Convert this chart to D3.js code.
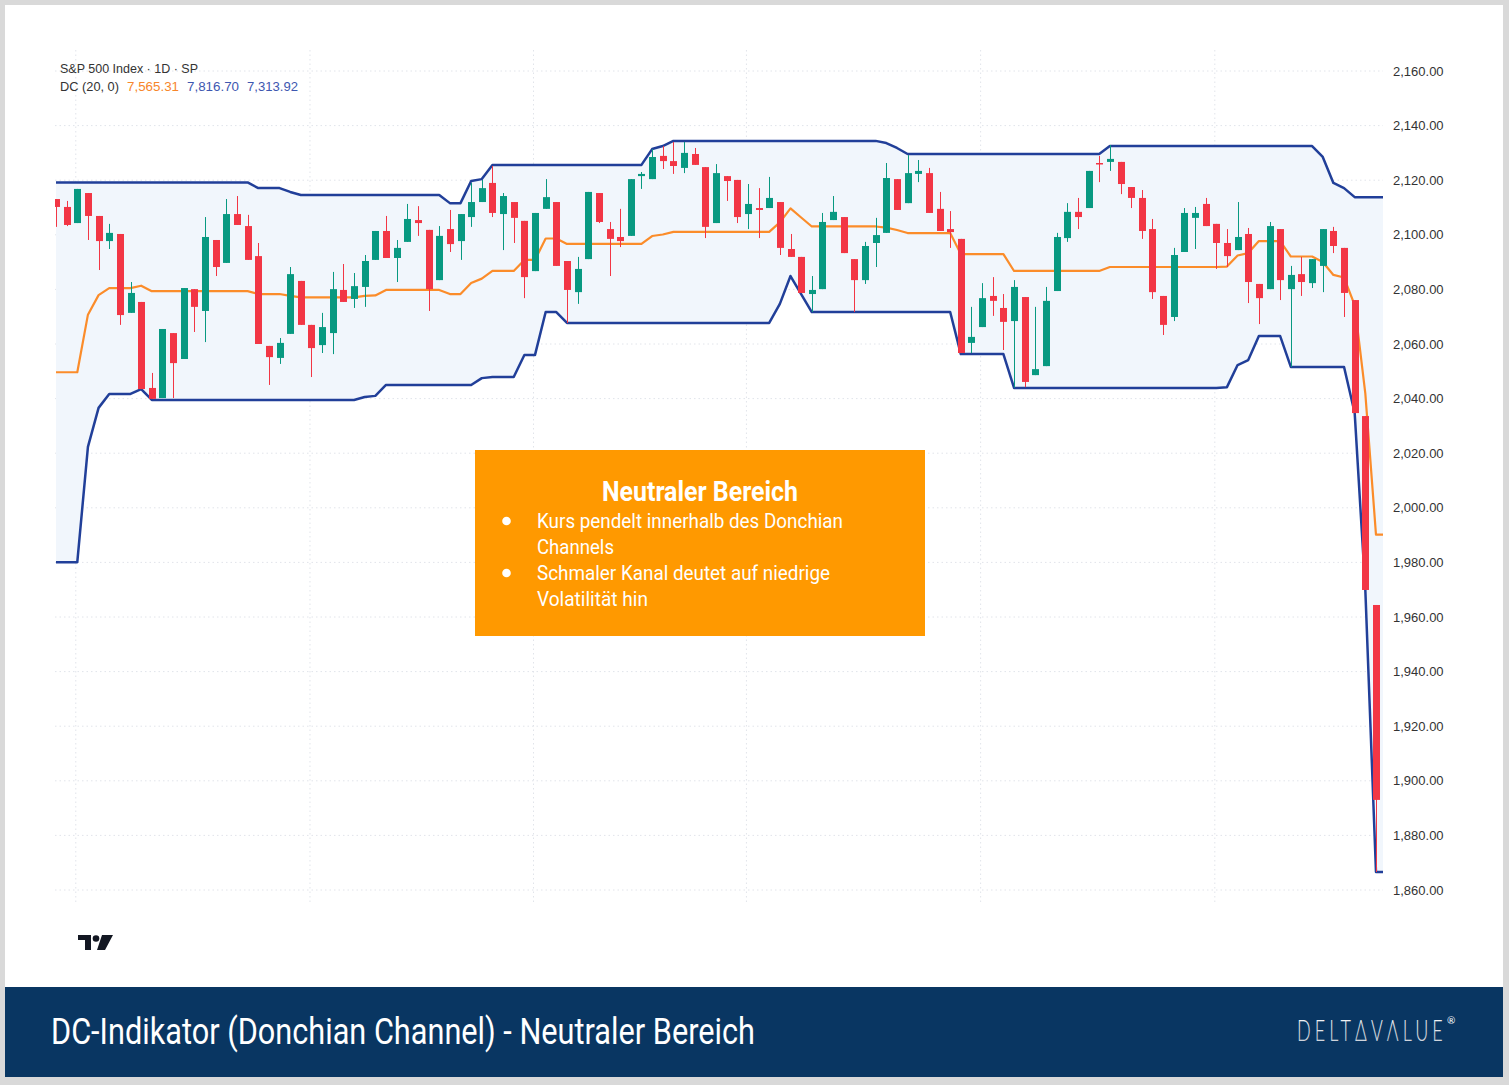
<!DOCTYPE html>
<html><head><meta charset="utf-8">
<script src="https://cdn.jsdelivr.net/npm/d3@7"></script>
<style>html,body{margin:0;padding:0;background:#d9d9d9;}svg{display:block;}</style>
</head><body>
<script>
// ---- data (S&P 500 daily candles) ----
const opens = [2113.1,2110.2,2104.3,2115.3,2106.9,2097.7,2100.3,2071.4,2075.4,2043.9,
2040.2,2064.0,2054.5,2080.1,2072.1,2098.1,2089.7,2107.6,2103.2,2092.2,
2059.3,2054.9,2063.7,2083.1,2067.0,2059.6,2064.0,2079.8,2076.5,2080.9,
2090.8,2101.4,2091.5,2097.4,2105.4,2101.8,2083.4,2102.1,2097.7,2106.5,
2112.0,2119.0,2107.6,2112.0,2105.1,2086.7,2109.5,2112.0,2090.4,2079.0,
2091.1,2115.3,2102.1,2099.2,2099.6,2121.5,2120.4,2128.9,2127.0,2124.5,
2129.6,2124.8,2104.3,2121.5,2120.1,2107.6,2109.8,2109.8,2112.0,2094.8,
2091.9,2078.3,2080.1,2105.4,2106.5,2091.1,2083.4,2097.0,2100.7,2120.4,
2111.6,2122.3,2122.6,2109.5,2102.1,2098.5,2060.4,2066.2,2077.6,2073.2,
2068.4,2077.2,2048.6,2051.9,2079.4,2098.8,2108.4,2109.8,2126.3,2126.7,
2126.7,2117.5,2113.5,2102.1,2077.6,2069.9,2093.7,2106.2,2111.3,2104.0,
2097.0,2094.4,2100.3,2082.0,2080.1,2102.1,2080.1,2085.6,2082.3,2088.6,
2101.4,2095.2,2076.1,2033.6,1964.4,1897.4];
const highs = [2113.1,2112.4,2116.8,2115.3,2106.9,2104.0,2100.3,2082.7,2075.4,2049.4,
2065.5,2064.0,2080.5,2080.1,2106.5,2098.1,2113.1,2114.2,2107.3,2097.0,
2059.3,2062.2,2088.2,2083.1,2067.0,2071.4,2086.4,2089.3,2086.0,2092.6,
2101.4,2106.9,2098.1,2111.3,2110.5,2101.8,2103.2,2109.1,2107.6,2119.0,
2120.1,2125.2,2115.3,2112.0,2105.1,2108.0,2120.4,2112.0,2090.4,2091.9,
2115.7,2115.3,2104.7,2109.5,2120.4,2123.0,2131.4,2132.5,2134.0,2134.0,
2131.8,2124.8,2125.9,2121.5,2120.1,2118.6,2117.1,2121.2,2112.0,2100.3,
2091.9,2084.9,2108.0,2114.2,2106.5,2091.1,2097.4,2106.2,2126.3,2120.4,
2129.2,2127.4,2124.5,2115.7,2108.7,2098.5,2073.6,2082.3,2084.5,2078.3,
2083.4,2077.2,2073.6,2080.9,2100.7,2111.6,2113.5,2123.4,2128.9,2132.9,
2126.7,2117.5,2116.4,2105.8,2077.6,2095.2,2109.8,2110.2,2113.5,2104.0,
2102.1,2112.0,2102.5,2082.0,2104.7,2102.1,2088.6,2091.9,2091.1,2102.1,
2102.9,2095.2,2076.1,2033.6,1964.4,1897.4];
const lows = [2102.9,2103.2,2104.3,2098.1,2087.1,2094.8,2067.0,2071.4,2043.5,2039.9,
2040.2,2040.2,2054.5,2064.4,2060.7,2084.9,2089.7,2103.6,2090.8,2060.0,
2045.0,2052.7,2063.7,2067.0,2047.9,2056.7,2056.3,2075.4,2073.2,2073.6,
2090.8,2091.5,2082.7,2097.4,2099.6,2072.1,2083.4,2093.7,2090.8,2102.9,
2112.0,2106.5,2094.4,2097.0,2076.8,2086.7,2109.5,2088.6,2067.7,2074.7,
2091.1,2104.3,2084.9,2095.5,2099.6,2116.8,2120.4,2124.1,2122.3,2122.6,
2125.6,2098.8,2104.3,2112.4,2104.3,2102.1,2098.8,2109.8,2092.6,2091.9,
2078.7,2071.7,2080.1,2105.4,2093.3,2071.7,2082.0,2088.2,2100.7,2109.1,
2111.6,2119.3,2108.0,2101.4,2095.2,2056.7,2056.7,2066.2,2070.3,2057.8,
2044.0,2044.2,2048.6,2051.9,2079.4,2097.4,2102.1,2109.8,2119.3,2123.4,
2114.9,2109.8,2098.5,2076.5,2063.3,2068.4,2093.7,2094.8,2103.2,2087.5,
2088.2,2094.4,2075.0,2067.3,2080.1,2076.1,2051.6,2077.6,2080.5,2079.0,
2093.3,2069.9,2034.7,1969.9,1866.6,1866.6];
const closes = [2110.2,2103.6,2116.8,2106.9,2097.7,2100.7,2070.6,2078.7,2043.5,2039.9,
2065.5,2053.0,2080.5,2073.6,2099.2,2088.2,2107.6,2103.6,2090.8,2060.0,
2055.2,2060.4,2085.6,2067.0,2058.5,2066.2,2080.1,2075.4,2081.2,2090.4,
2101.4,2091.5,2095.2,2105.8,2104.3,2080.1,2099.6,2096.6,2107.6,2112.0,
2117.1,2108.0,2114.2,2106.2,2084.5,2108.0,2113.8,2088.6,2079.8,2087.5,
2115.7,2104.7,2098.5,2097.7,2120.4,2122.3,2128.5,2127.0,2125.2,2130.0,
2125.6,2102.9,2122.6,2119.7,2106.5,2111.3,2109.1,2113.5,2095.2,2091.9,
2078.7,2079.8,2104.7,2108.4,2093.3,2083.4,2095.9,2099.9,2120.8,2109.1,
2122.6,2123.4,2108.0,2101.4,2101.0,2056.7,2062.6,2076.8,2075.8,2068.1,
2080.9,2046.1,2050.8,2075.8,2099.2,2108.4,2106.5,2123.4,2125.9,2127.8,
2118.6,2113.5,2101.4,2079.0,2067.0,2092.6,2108.0,2108.0,2103.2,2097.0,
2092.2,2099.2,2082.7,2076.8,2103.2,2083.4,2085.3,2082.7,2091.1,2102.1,
2095.9,2078.7,2034.7,1969.9,1893.0,1866.8];
// Donchian Channel (20, 0): upper, basis, lower
const dcUpper = [2119.2,2119.2,2119.2,2119.2,2119.2,2119.2,2119.2,2119.2,2119.2,2119.2,
2119.2,2119.2,2119.2,2119.2,2119.2,2119.2,2119.2,2119.2,2119.2,2117.1,
2117.1,2117.1,2115.7,2114.6,2114.6,2114.6,2114.6,2114.6,2114.6,2114.6,
2114.6,2114.6,2114.6,2114.6,2114.6,2114.6,2114.6,2111.6,2111.6,2119.7,
2120.4,2125.6,2125.6,2125.6,2125.6,2125.6,2125.6,2125.6,2125.6,2125.6,
2125.6,2125.6,2125.6,2125.6,2125.6,2125.6,2131.4,2132.5,2134.4,2134.4,
2134.4,2134.4,2134.4,2134.4,2134.4,2134.4,2134.4,2134.4,2134.4,2134.4,
2134.4,2134.4,2134.4,2134.4,2134.4,2134.4,2134.4,2134.4,2133.6,2131.8,
2129.6,2129.6,2129.6,2129.6,2129.6,2129.6,2129.6,2129.6,2129.6,2129.6,
2129.6,2129.6,2129.6,2129.6,2129.6,2129.6,2129.6,2129.6,2129.6,2132.5,
2132.5,2132.5,2132.5,2132.5,2132.5,2132.5,2132.5,2132.5,2132.5,2132.5,
2132.5,2132.5,2132.5,2132.5,2132.5,2132.5,2132.5,2132.5,2132.5,2128.5,
2119.0,2117.1,2113.8,2113.8,2113.8,2113.8];
const dcBasis = [2049.65,2049.65,2049.65,2070.75,2077.9,2080.45,2080.45,2080.45,2081.35,2079.35,
2079.35,2079.35,2079.35,2079.35,2079.35,2079.35,2079.35,2079.35,2079.35,2078.3,
2078.3,2078.3,2077.6,2077.05,2077.05,2077.05,2077.05,2077.05,2077.05,2077.6,
2077.8,2079.8,2079.8,2079.8,2079.8,2079.8,2079.8,2078.3,2078.3,2082.35,
2083.95,2086.75,2086.75,2086.75,2090.8,2090.8,2098.65,2098.65,2096.65,2096.65,
2096.65,2096.65,2096.65,2096.65,2096.65,2096.65,2099.55,2100.1,2101.05,2101.05,
2101.05,2101.05,2101.05,2101.05,2101.05,2101.05,2101.05,2101.05,2104.55,2109.65,
2106.35,2103.05,2103.05,2103.05,2103.05,2103.05,2103.05,2103.05,2102.65,2101.75,
2100.65,2100.65,2100.65,2100.65,2100.65,2092.95,2092.95,2092.95,2092.95,2092.95,
2086.75,2086.75,2086.75,2086.75,2086.75,2086.75,2086.75,2086.75,2086.75,2088.2,
2088.2,2088.2,2088.2,2088.2,2088.2,2088.2,2088.2,2088.2,2088.2,2088.2,
2088.35,2092.4,2093.3,2097.7,2097.7,2097.7,2092.05,2092.05,2092.05,2090.05,
2085.3,2084.35,2074.25,2041.85,1990.2,1990.2];
const dcLower = [1980.1,1980.1,1980.1,2022.3,2036.6,2041.7,2041.7,2041.7,2043.5,2039.5,
2039.5,2039.5,2039.5,2039.5,2039.5,2039.5,2039.5,2039.5,2039.5,2039.5,
2039.5,2039.5,2039.5,2039.5,2039.5,2039.5,2039.5,2039.5,2039.5,2040.6,
2041.0,2045.0,2045.0,2045.0,2045.0,2045.0,2045.0,2045.0,2045.0,2045.0,
2047.5,2047.9,2047.9,2047.9,2056.0,2056.0,2071.7,2071.7,2067.7,2067.7,
2067.7,2067.7,2067.7,2067.7,2067.7,2067.7,2067.7,2067.7,2067.7,2067.7,
2067.7,2067.7,2067.7,2067.7,2067.7,2067.7,2067.7,2067.7,2074.7,2084.9,
2078.3,2071.7,2071.7,2071.7,2071.7,2071.7,2071.7,2071.7,2071.7,2071.7,
2071.7,2071.7,2071.7,2071.7,2071.7,2056.3,2056.3,2056.3,2056.3,2056.3,
2043.9,2043.9,2043.9,2043.9,2043.9,2043.9,2043.9,2043.9,2043.9,2043.9,
2043.9,2043.9,2043.9,2043.9,2043.9,2043.9,2043.9,2043.9,2043.9,2043.9,
2044.2,2052.3,2054.1,2062.9,2062.9,2062.9,2051.6,2051.6,2051.6,2051.6,
2051.6,2051.6,2034.7,1969.9,1866.6,1866.6];
const yTicks = [2160,2140,2120,2100,2080,2060,2040,2020,2000,1980,1960,1940,1920,1900,1880,1860];
const monthStartIdx = [2,24,45,65,87,109]; // Mar, Apr, May, Jun, Jul, Aug
const legendTitle = "S&P 500 Index · 1D · SP";
const legendDC = ["DC (20, 0)","7,565.31","7,816.70","7,313.92"];
const boxTitle = "Neutraler Bereich";
const boxLines = [["Kurs pendelt innerhalb des Donchian","Channels"],["Schmaler Kanal deutet auf niedrige","Volatilität hin"]];
const bannerTitle = "DC-Indikator (Donchian Channel) - Neutraler Bereich";

// ---- layout ----
const W = 1509, H = 1085;
const plot = {left:55, right:1383, top:42, bottom:905};
const svg = d3.select("body").append("svg").attr("width",W).attr("height",H);
const defs = svg.append("defs");

svg.append("rect").attr("x",0).attr("y",0).attr("width",W).attr("height",H).attr("fill","#d9d9d9");
svg.append("rect").attr("x",5).attr("y",5).attr("width",1498).attr("height",982).attr("fill","#ffffff");
svg.append("rect").attr("x",5).attr("y",987).attr("width",1498).attr("height",90).attr("fill","#093662");

const n = closes.length;
const x = d3.scaleLinear().domain([0, n-1]).range([56, 56 + (n-1)*10.645]);
const y = d3.scaleLinear().domain([1860, 2160]).range([890, 71]);

defs.append("clipPath").attr("id","clip")
  .append("rect").attr("x",plot.left).attr("y",plot.top).attr("width",plot.right-plot.left).attr("height",plot.bottom-plot.top);

// grid
const grid = svg.append("g");
grid.selectAll("line.h").data(yTicks).join("line")
  .attr("x1",plot.left).attr("x2",plot.right).attr("y1",d=>y(d)).attr("y2",d=>y(d))
  .attr("stroke","#e1e4ea").attr("stroke-width",1).attr("stroke-dasharray","1.5,3");
grid.selectAll("line.v").data(monthStartIdx).join("line")
  .attr("x1",d=>x(d)-1.5).attr("x2",d=>x(d)-1.5).attr("y1",plot.top+8).attr("y2",plot.bottom)
  .attr("stroke","#e1e4ea").attr("stroke-width",1).attr("stroke-dasharray","1.5,3");

const g = svg.append("g").attr("clip-path","url(#clip)");
const idx = d3.range(n);

// channel fill
g.append("path").datum(idx)
  .attr("d", d3.area().x(i=>x(i)).y0(i=>y(dcLower[i])).y1(i=>y(dcUpper[i])))
  .attr("fill","#f1f6fc");

const line = arr => d3.line().x(i=>x(i)).y(i=>y(arr[i]));
g.append("path").datum(idx).attr("d", line(dcBasis)).attr("fill","none").attr("stroke","#fb8c2a").attr("stroke-width",2.2).attr("stroke-linejoin","round");
g.append("path").datum(idx).attr("d", line(dcUpper)).attr("fill","none").attr("stroke","#213f99").attr("stroke-width",2.5).attr("stroke-linejoin","round");
g.append("path").datum(idx).attr("d", line(dcLower)).attr("fill","none").attr("stroke","#213f99").attr("stroke-width",2.5).attr("stroke-linejoin","round");

// candles
const up = "#089981", dn = "#f23645";
const col = i => closes[i] >= opens[i] ? up : dn;
const c = g.append("g");
c.selectAll("line.wick").data(idx).join("line")
  .attr("x1",i=>Math.round(x(i))+0.5).attr("x2",i=>Math.round(x(i))+0.5)
  .attr("y1",i=>y(highs[i])).attr("y2",i=>y(lows[i]))
  .attr("stroke",col).attr("stroke-width",1);
c.selectAll("rect.body").data(idx).join("rect")
  .attr("x",i=>Math.round(x(i))-3).attr("width",7)
  .attr("y",i=>y(Math.max(opens[i],closes[i])))
  .attr("height",i=>Math.max(1.5, Math.abs(y(opens[i])-y(closes[i]))))
  .attr("fill",col);

// price axis
const ax = svg.append("g").attr("transform",`translate(1393,0)`)
  .call(d3.axisRight(y).tickValues(yTicks).tickFormat(d3.format(",.2f")).tickSize(0).tickPadding(0));
ax.select(".domain").remove();
ax.selectAll("text").attr("font-family","'Liberation Sans', Arial, sans-serif").attr("font-size",13).attr("fill","#333");

// legend
const lf = "'Liberation Sans', Arial, sans-serif";
svg.append("text").attr("x",60).attr("y",73).attr("font-family",lf).attr("font-size",12.5).attr("fill","#333")
  .attr("textLength",138).attr("lengthAdjust","spacingAndGlyphs").text(legendTitle);
const lg = [[60,"#333",59],[127,"#f7862b",52],[187,"#3e57b0",52],[247,"#3e57b0",51]];
legendDC.forEach((t,k)=>svg.append("text").attr("x",lg[k][0]).attr("y",91).attr("font-family",lf).attr("font-size",12.5)
  .attr("fill",lg[k][1]).attr("textLength",lg[k][2]).attr("lengthAdjust","spacingAndGlyphs").text(t));

// TradingView logo
const logo = svg.append("g").attr("fill","#131722");
logo.append("path").attr("d","M78,935 H91 V950 H85 V940 H78 Z");
logo.append("circle").attr("cx",96).attr("cy",938.5).attr("r",3.3);
logo.append("path").attr("d","M102,935 H113 L105,950 H97 Z");

// annotation box
svg.append("rect").attr("x",475).attr("y",450).attr("width",450).attr("height",186).attr("fill","#ff9900");
const bf = "Roboto, 'Noto Sans', sans-serif";
svg.append("text").attr("x",602).attr("y",501).attr("font-family",bf).attr("font-weight",700).attr("font-size",28)
  .attr("fill","#fff").attr("textLength",196).attr("lengthAdjust","spacingAndGlyphs").text(boxTitle);
const lw = [[306,77],[293,111]];
boxLines.forEach((pair,k)=>{
  const base = 528 + k*52;
  svg.append("circle").attr("cx",506.5).attr("cy",base-7).attr("r",4.3).attr("fill","#fff");
  pair.forEach((t,j)=>svg.append("text").attr("x",537).attr("y",base + j*26).attr("font-family",bf).attr("font-size",21)
    .attr("fill","#fff").attr("textLength",lw[k][j]).attr("lengthAdjust","spacingAndGlyphs").text(t));
});

// banner
svg.append("text").attr("x",51).attr("y",1044).attr("font-family",bf).attr("font-size",37).attr("fill","#fff")
  .attr("textLength",704).attr("lengthAdjust","spacingAndGlyphs").text(bannerTitle);
const grad = defs.append("linearGradient").attr("id","silver").attr("x1",0).attr("y1",0).attr("x2",0).attr("y2",1);
grad.append("stop").attr("offset","0%").attr("stop-color","#ffffff");
grad.append("stop").attr("offset","100%").attr("stop-color","#c3c9d2");
svg.append("text").attr("transform","translate(1297,1041) scale(0.6,1)").attr("x",0).attr("y",0)
  .attr("font-family","Lato, Roboto, sans-serif").attr("font-weight",300).attr("font-size",30)
  .attr("fill","url(#silver)").attr("textLength",243).attr("lengthAdjust","spacing").text("DELTΔVΛLUE");
svg.append("text").attr("x",1447).attr("y",1024).attr("font-family","Lato, Roboto, sans-serif").attr("font-size",10).attr("fill","#fff").text("®");
</script>
</body></html>
